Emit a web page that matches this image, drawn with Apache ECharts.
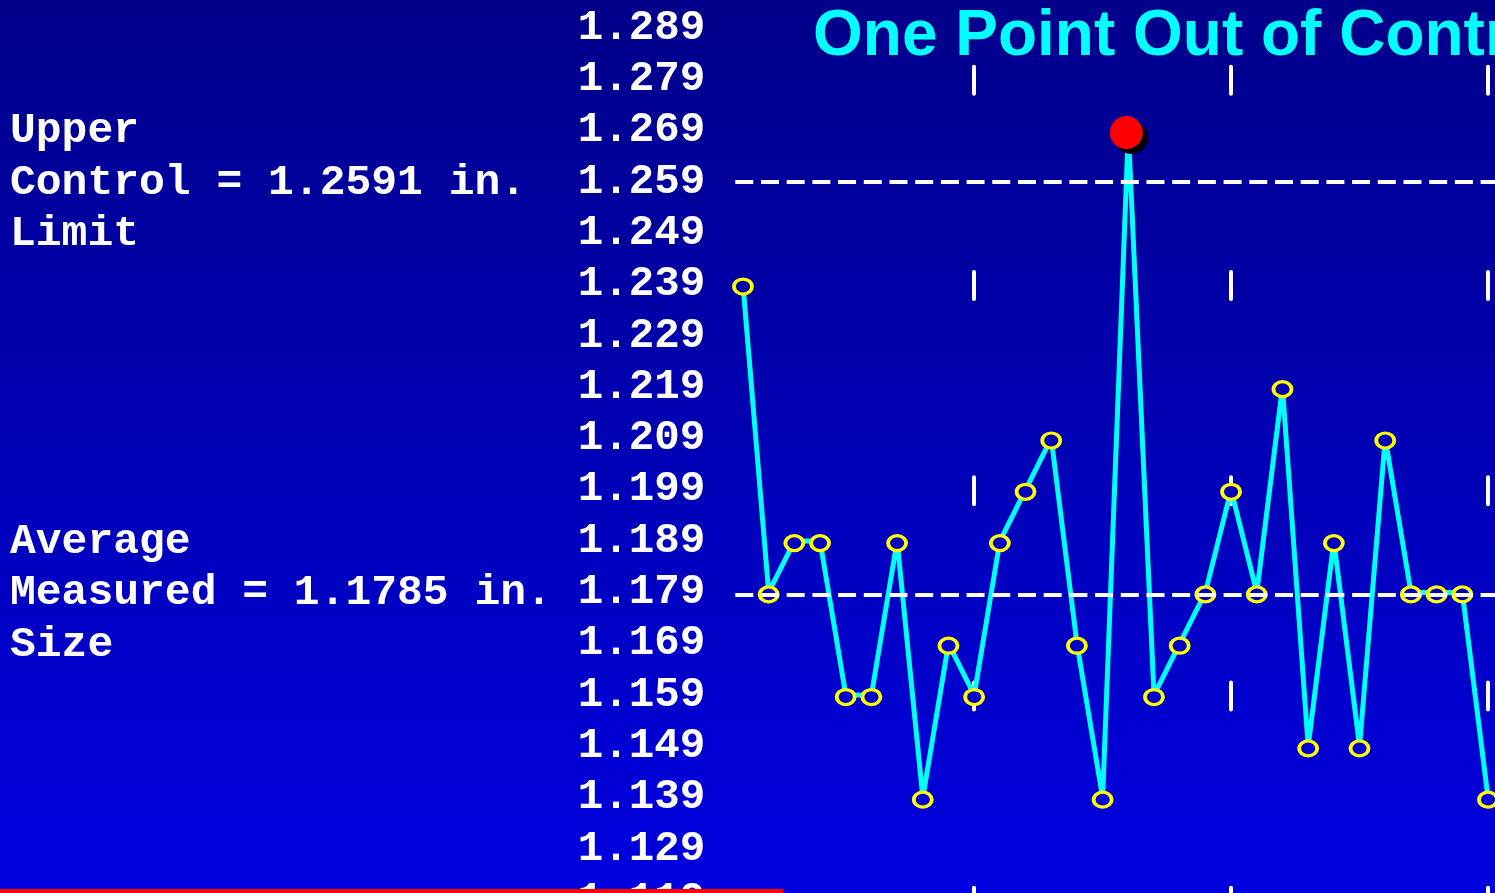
<!DOCTYPE html>
<html>
<head>
<meta charset="utf-8">
<title>One Point Out of Control</title>
<script src="https://cdn.jsdelivr.net/npm/echarts@6/dist/echarts.min.js"></script>
<style>
  html, body { margin: 0; padding: 0; width: 100%; height: 100%; overflow: hidden;
    background: linear-gradient(to bottom, #00008a, #0000e0); }
  #chart { width: 1495px; height: 893px; }
</style>
</head>
<body>
<div id="chart"></div>
<script>
// Sample numbers (1-based) and measured sizes in inches
const sampleNo = [1, 2, 3, 4, 5, 6, 7, 8, 9, 10, 11, 12, 13, 14, 15,
                  16, 17, 18, 19, 20, 21, 22, 23, 24, 25, 26, 27, 28, 29, 30];
const measured = [1.239, 1.179, 1.189, 1.189, 1.159, 1.159, 1.189, 1.139, 1.169, 1.159,
                  1.189, 1.199, 1.209, 1.169, 1.139, 1.269, 1.159, 1.169, 1.179, 1.199,
                  1.179, 1.219, 1.149, 1.189, 1.149, 1.209, 1.179, 1.179, 1.179, 1.139];

// Rows printed on the size scale
const tickLabels = [1.119, 1.129, 1.139, 1.149, 1.159, 1.169, 1.179, 1.189, 1.199,
                    1.209, 1.219, 1.229, 1.239, 1.249, 1.259, 1.269, 1.279, 1.289];

// Control chart limits (inches)
const UCL = 1.2591;
const CL = 1.1785;

const titleText = 'One Point Out of Control';

// ---- layout / style ----
const Y_MIN = 1.115, Y_MAX = 1.295;
const GRID_TOP = -2.8, GRID_H = 923.6;        // 51.31 px per 0.01 in.
const ROW_PX = GRID_H / ((Y_MAX - Y_MIN) * 100);
const GRID_LEFT = 717.3, STEP_PX = 25.69;      // px per sample
const X_MAX = (1495 - GRID_LEFT) / STEP_PX;
const BG_TOP = [0, 0, 138], BG_BOTTOM = [0, 0, 224];
const CANVAS_H = 893;
const MONO = '"Liberation Mono", "DejaVu Sans Mono", monospace';

function bgAt(py) {
  const t = Math.max(0, Math.min(1, py / CANVAS_H));
  const c = BG_TOP.map((a, i) => Math.round(a + (BG_BOTTOM[i] - a) * t));
  return 'rgb(' + c.join(',') + ')';
}
function pxOfValue(v) {
  return GRID_TOP + (Y_MAX - v) / (Y_MAX - Y_MIN) * GRID_H;
}

// vertical marker dashes: one every 4 rows, centred on the 1.279 row
const markPeriod = ROW_PX * 4;
const markLen = 27;
const markStart = pxOfValue(1.279) + 1 - markLen / 2 - GRID_TOP;
const markOffset = ((markPeriod - markStart) % markPeriod + markPeriod) % markPeriod;

const linePts = sampleNo.map((n, i) => [n, measured[i]]);
const inControl = linePts.filter(p => p[1] <= UCL);
const outOfControl = linePts.filter(p => p[1] > UCL);

const chart = echarts.init(document.getElementById('chart'), null, { renderer: 'canvas' });

chart.setOption({
  backgroundColor: 'transparent',
  animation: false,
  grid: {
    left: GRID_LEFT, top: GRID_TOP, width: X_MAX * STEP_PX, height: GRID_H,
    containLabel: false, outerBoundsMode: 'none'
  },
  xAxis: {
    type: 'value', min: 0, max: X_MAX, interval: 10,
    axisLine: { show: false }, axisTick: { show: false }, axisLabel: { show: false },
    splitLine: {
      show: true, showMinLine: false, showMaxLine: false,
      lineStyle: { color: '#ffffff', width: 4, cap: 'round',
                   type: [markLen, markPeriod - markLen], dashOffset: markOffset }
    }
  },
  yAxis: {
    type: 'value', min: Y_MIN, max: Y_MAX,
    axisLine: { show: false }, axisTick: { show: false }, splitLine: { show: false },
    axisLabel: {
      customValues: tickLabels,
      formatter: v => v.toFixed(3),
      color: '#ffffff', fontFamily: MONO, fontWeight: 'bold', fontSize: 42.5, margin: 12
    }
  },
  series: [
    {
      name: 'Measured size',
      type: 'line',
      data: linePts,
      symbol: 'none',
      z: 2,
      lineStyle: { color: '#00ffff', width: 5 },
      markLine: {
        silent: true, symbol: ['none', 'none'], label: { show: false },
        lineStyle: { color: '#ffffff', width: 4, type: [18, 7.7] },
        emphasis: { disabled: true },
        data: [
          [{ coord: [0.7, UCL] }, { coord: [X_MAX, UCL] }],
          [{ coord: [0.7, CL] }, { coord: [X_MAX, CL] }]
        ]
      }
    },
    {
      name: 'In control',
      type: 'scatter',
      data: inControl,
      z: 3,
      symbol: 'circle',
      symbolSize: [18, 15],
      symbolOffset: [0, 2],
      itemStyle: {
        opacity: 1,
        color: p => bgAt(pxOfValue(p.value[1]) + 2),
        borderColor: '#ffff00', borderWidth: 3.5
      }
    },
    {
      name: 'Out of control',
      type: 'scatter',
      data: outOfControl,
      z: 4,
      symbol: 'circle',
      symbolSize: 33,
      symbolOffset: [-2, 2],
      itemStyle: { opacity: 1, color: '#ff0000', shadowColor: '#000000', shadowBlur: 0,
                   shadowOffsetX: 5, shadowOffsetY: 5 }
    }
  ]
});

// annotation rows snap to the printed row nearest each limit
function nearestRow(v) {
  return tickLabels.reduce((a, b) => Math.abs(b - v) < Math.abs(a - v) ? b : a);
}
const yUCL = chart.convertToPixel({ gridIndex: 0 }, [0, nearestRow(UCL)])[1];
const yCL = chart.convertToPixel({ gridIndex: 0 }, [0, nearestRow(CL)])[1];

const sideFont = { fill: '#ffffff', fontFamily: MONO, fontWeight: 'bold', fontSize: 43,
                   lineHeight: ROW_PX, align: 'left', verticalAlign: 'middle' };

chart.setOption({
  graphic: [
    {
      type: 'text', x: 10, y: yUCL + 1, z: 10,
      style: Object.assign({ text: ['Upper', 'Control = ' + UCL.toFixed(4) + ' in.', 'Limit'].join('\n') }, sideFont)
    },
    {
      type: 'text', x: 10, y: yCL + 1, z: 10,
      style: Object.assign({ text: ['Average', 'Measured = ' + CL.toFixed(4) + ' in.', 'Size'].join('\n') }, sideFont)
    },
    {
      type: 'text', x: 813, y: 37, z: 10,
      style: {
        text: titleText, fill: '#00ffff',
        fontFamily: '"Liberation Sans", Arial, sans-serif', fontWeight: 'bold', fontSize: 64,
        align: 'left', verticalAlign: 'middle',
        textShadowColor: '#000000', textShadowBlur: 0, textShadowOffsetX: 4, textShadowOffsetY: 4
      }
    },
    {
      type: 'rect', z: 20,
      shape: { x: 0, y: 889, width: 783, height: 4 },
      style: { fill: '#ff0000' }
    }
  ]
});
</script>
</body>
</html>
